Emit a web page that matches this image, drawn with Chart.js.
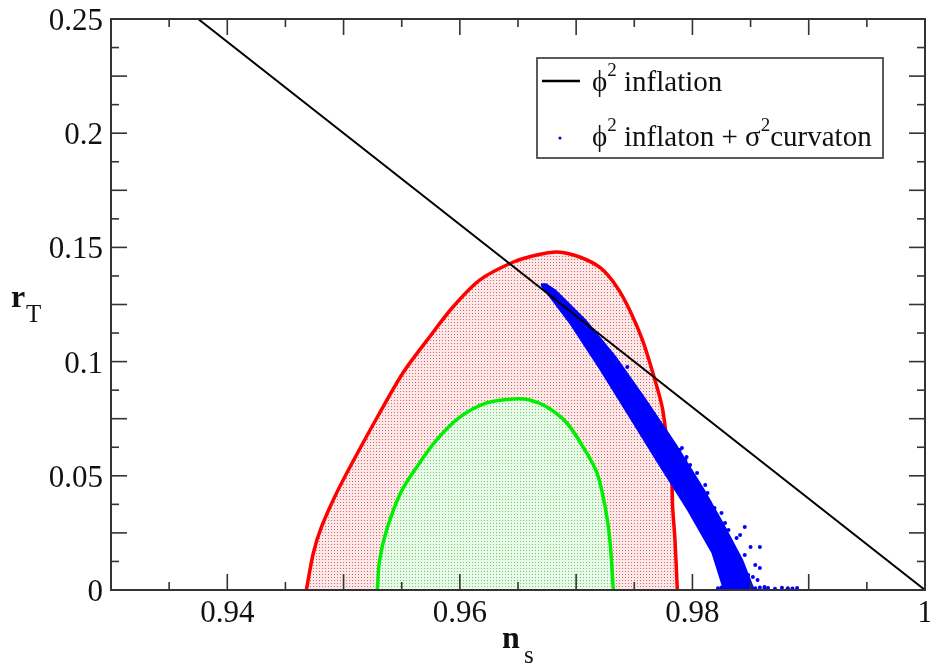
<!DOCTYPE html>
<html><head><meta charset="utf-8">
<script src="https://cdn.jsdelivr.net/npm/chart.js@4.4.0/dist/chart.umd.min.js"></script>
<style>html,body{margin:0;padding:0;background:#fff;}canvas{display:block;}</style>
</head><body>
<canvas id="c" width="930" height="666"></canvas>
<script>
// ---- data ----
const inflationNs = [0.9375, 1.0];
const inflationR  = [0.25, 0.0];

const red95Ns = [0.9468,0.9474,0.9481,0.9494,0.9512,0.9531,0.9551,0.9572,0.9594,0.9617,0.9646,0.9666,0.9684,0.9703,0.9721,0.9735,0.9746,0.9757,0.9766,0.9774,0.9778,0.9782,0.9783,0.9785,0.9787];
const red95R  = [0.0,0.0162,0.0276,0.0425,0.0600,0.0775,0.0950,0.1095,0.1239,0.1357,0.1436,0.1467,0.1480,0.1458,0.1410,0.1327,0.1226,0.1095,0.0950,0.0801,0.0657,0.0512,0.0363,0.0219,0.0];

const green68Ns = [0.9529,0.9531,0.9537,0.9549,0.9563,0.9580,0.9600,0.9623,0.9646,0.9660,0.9675,0.9692,0.9706,0.9718,0.9725,0.9729,0.9732];
const green68R  = [0.0,0.0131,0.0263,0.0425,0.0539,0.0657,0.0757,0.0819,0.0836,0.0832,0.0801,0.0731,0.0626,0.0512,0.0363,0.0219,0.0];

// dense part of the curvaton scatter (outline of the band)
const bandNs = [0.9670,0.9671,0.9695,0.9721,0.9745,0.9770,0.9796,0.9817,0.9827,0.9853,0.9843,0.9827,0.9810,0.9786,0.9760,0.9734,0.9708,0.9682,0.9674,0.9670];
const bandR  = [0.1340,0.1327,0.1165,0.0963,0.0766,0.0560,0.0350,0.0162,0.0,0.0,0.0131,0.0285,0.0438,0.0635,0.0832,0.1020,0.1182,0.1313,0.1340,0.1340];

// individual curvaton points
const curvatonNs = [0.9709,0.9718,0.9723,0.9744,0.9746,0.9749,0.9752,0.9761,0.9766,0.9775,0.9774,0.9778,0.9789,0.9791,0.9795,0.9794,0.9798,0.9788,0.9796,0.9804,0.9813,0.9815,0.9825,0.9828,0.9838,0.9845,0.9841,0.9850,0.9858,0.9854,0.9858,0.9852,0.9862,
  0.9714,0.9721,0.9727,0.9731,0.9738,0.9741,0.9750,0.9756,0.9764,0.9770,0.9772,0.9782,0.9785,0.9792,0.9801,0.9806,0.9811,0.9819,0.9822,0.9831,0.9834,0.9845,0.9848,0.9841,0.9856,
  0.9822,0.9825,0.9828,0.9832,0.9836,0.9841,0.9845,0.9850,0.9854,0.9858,0.9862,0.9865,0.9871,0.9877,0.9882,0.9886,0.9890];
const curvatonR  = [0.1151,0.1108,0.1051,0.0976,0.0919,0.0876,0.0863,0.0788,0.0744,0.0687,0.0679,0.0613,0.0613,0.0622,0.0582,0.0569,0.0547,0.0525,0.0495,0.0512,0.0425,0.0381,0.0337,0.0293,0.0228,0.0276,0.0241,0.0188,0.0188,0.0109,0.0096,0.0057,0.0013,
  0.1138,0.1081,0.1042,0.1007,0.0954,0.0928,0.0889,0.0823,0.0766,0.0727,0.0657,0.0626,0.0578,0.0534,0.0490,0.0407,0.0460,0.0359,0.0306,0.0263,0.0197,0.0153,0.0066,0.0044,0.0044,
  0.0008,0.0011,0.0010,0.0006,0.0009,0.0007,0.0010,0.0006,0.0008,0.0011,0.0007,0.0009,0.0006,0.0010,0.0008,0.0007,0.0009];

const xLabelTicks = [0.94, 0.96, 0.98, 1];
const yLabelTicks = [0, 0.05, 0.1, 0.15, 0.2, 0.25];

// ---- helpers ----
const toPts = (xs, ys) => xs.map((v, i) => ({x: v, y: ys[i]}));
const canvas = document.getElementById('c');
const mainCtx = canvas.getContext('2d');
function dotPattern(dot, bg) {
  const c = document.createElement('canvas');
  c.width = 3; c.height = 3;
  const g = c.getContext('2d');
  g.fillStyle = bg; g.fillRect(0, 0, 3, 3);
  g.fillStyle = dot; g.fillRect(1, 1, 1, 1);
  return mainCtx.createPattern(c, 'repeat');
}
const redFill = dotPattern('#e06464', '#fbe8e8');
const greenFill = dotPattern('#62d262', '#eaf9ea');
const SERIF = '"Liberation Serif", "DejaVu Serif", serif';
const fmt = v => String(Number(v.toFixed(2)));

const frameTicks = {
  id: 'frameTicks',
  afterDatasetsDraw(chart) {
    const {ctx, chartArea: a, scales: {x, y}} = chart;
    ctx.save();
    ctx.strokeStyle = '#333';
    ctx.lineWidth = 1.6;
    const xt = x.ticks.map(t => t.value);
    const yt = y.ticks.map(t => t.value);
    const xline = (px, len) => {
      ctx.beginPath(); ctx.moveTo(px, a.bottom); ctx.lineTo(px, a.bottom - len); ctx.stroke();
      ctx.beginPath(); ctx.moveTo(px, a.top); ctx.lineTo(px, a.top + len); ctx.stroke();
    };
    const yline = (py, len) => {
      ctx.beginPath(); ctx.moveTo(a.left, py); ctx.lineTo(a.left + len, py); ctx.stroke();
      ctx.beginPath(); ctx.moveTo(a.right, py); ctx.lineTo(a.right - len, py); ctx.stroke();
    };
    xt.forEach((v, i) => {
      xline(x.getPixelForValue(v), 16);
      if (i < xt.length - 1) xline(x.getPixelForValue((v + xt[i + 1]) / 2), 8);
    });
    yt.forEach((v, i) => {
      yline(y.getPixelForValue(v), 16);
      if (i < yt.length - 1) yline(y.getPixelForValue((v + yt[i + 1]) / 2), 8);
    });
    ctx.lineWidth = 2;
    ctx.strokeRect(a.left, a.top, a.right - a.left, a.bottom - a.top);
    ctx.restore();
  },
  afterDraw(chart) {
    const {ctx, chartArea: a, scales: {x, y}} = chart;
    ctx.save();
    ctx.fillStyle = '#111';
    ctx.textBaseline = 'alphabetic';
    // tick labels
    ctx.font = '31px ' + SERIF;
    ctx.textAlign = 'center';
    xLabelTicks.forEach(v => ctx.fillText(fmt(v), x.getPixelForValue(v), a.bottom + 32));
    ctx.textAlign = 'right';
    yLabelTicks.forEach(v => ctx.fillText(fmt(v), a.left - 8, y.getPixelForValue(v) + 11));
    // axis titles
    ctx.textAlign = 'left';
    ctx.font = 'bold 32px ' + SERIF;
    ctx.fillText('r', 11, 307);
    ctx.font = '25px ' + SERIF;
    ctx.fillText('T', 26, 322);
    ctx.font = 'bold 32px ' + SERIF;
    ctx.fillText('n', 502, 648);
    ctx.font = '25px ' + SERIF;
    ctx.fillText('s', 524, 663);

    // legend box
    const bx = 537, by = 58, bw = 346, bh = 100;
    ctx.fillStyle = '#fff';
    ctx.fillRect(bx, by, bw, bh);
    ctx.strokeStyle = '#333';
    ctx.lineWidth = 1.6;
    ctx.strokeRect(bx, by, bw, bh);
    ctx.strokeStyle = '#000';
    ctx.lineWidth = 2.5;
    ctx.beginPath(); ctx.moveTo(542, 81); ctx.lineTo(580, 81); ctx.stroke();
    const big = '29px ' + SERIF, sup = '19px ' + SERIF;
    const runs = (parts, x0, base) => {
      let xx = x0;
      parts.forEach(([txt, isSup]) => {
        ctx.font = isSup ? sup : big;
        ctx.fillText(txt, xx, isSup ? base - 15 : base);
        xx += ctx.measureText(txt).width;
      });
    };
    ctx.fillStyle = '#111';
    runs([['\u03D5', false], ['2', true], [' inflation', false]], 592, 91);
    ctx.fillStyle = '#0000ff';
    ctx.beginPath(); ctx.arc(560, 138, 1.6, 0, Math.PI * 2); ctx.fill();
    ctx.fillStyle = '#111';
    runs([['\u03D5', false], ['2', true], [' inflaton + \u03C3', false], ['2', true], ['curvaton', false]], 592, 146);
    ctx.restore();
  }
};

new Chart(canvas, {
  type: 'scatter',
  data: {
    datasets: [
      { label: 'phi2 inflation', data: toPts(inflationNs, inflationR), showLine: true,
        borderColor: '#000', borderWidth: 2, pointRadius: 0, fill: false, order: 0 },
      { label: 'curvaton points', data: toPts(curvatonNs, curvatonR), showLine: false,
        backgroundColor: '#0000ff', borderWidth: 0, pointRadius: 2, pointStyle: 'circle', order: 1, clip: 4 },
      { label: 'curvaton band', data: toPts(bandNs, bandR), showLine: true,
        borderColor: '#0000ff', borderWidth: 1.5, backgroundColor: '#0000ff', pointRadius: 0, fill: 'shape', order: 2 },
      { label: '68%', data: toPts(green68Ns, green68R), showLine: true,
        borderColor: '#00ee00', borderWidth: 3.5, backgroundColor: greenFill, pointRadius: 0, fill: 'origin', tension: 0.3, order: 3 },
      { label: '95%', data: toPts(red95Ns, red95R), showLine: true,
        borderColor: '#ff0000', borderWidth: 3.5, backgroundColor: redFill, pointRadius: 0, fill: 'origin', tension: 0.3, order: 4 }
    ]
  },
  options: {
    responsive: false,
    animation: false,
    devicePixelRatio: 1,
    layout: { autoPadding: false, padding: { left: 0, top: 19, right: 5, bottom: 0 } },
    plugins: { legend: { display: false }, tooltip: { enabled: false } },
    scales: {
      x: {
        type: 'linear', min: 0.93, max: 1.0,
        grid: { display: false, drawTicks: false },
        border: { display: false },
        ticks: { stepSize: 0.01, autoSkip: false, display: false },
        afterFit: s => { s.height = 76; }
      },
      y: {
        type: 'linear', min: 0, max: 0.25,
        grid: { display: false, drawTicks: false },
        border: { display: false },
        ticks: { stepSize: 0.025, autoSkip: false, display: false },
        afterFit: s => { s.width = 111; }
      }
    }
  },
  plugins: [frameTicks]
});
</script>
</body></html>
